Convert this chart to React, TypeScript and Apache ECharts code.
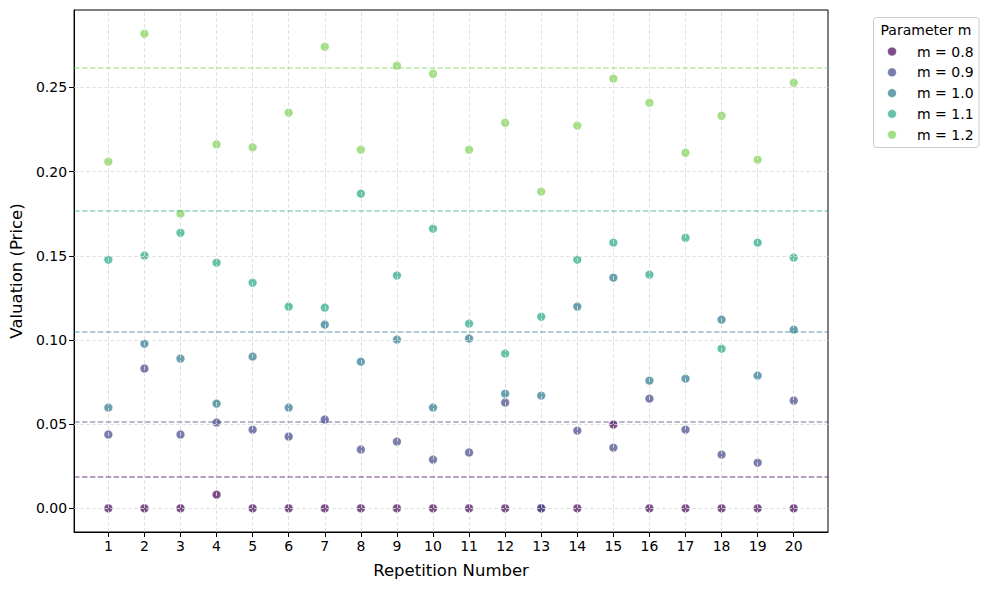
import React, { useEffect, useRef } from "react";
import * as echarts from "echarts";

const reps = [1, 2, 3, 4, 5, 6, 7, 8, 9, 10, 11, 12, 13, 14, 15, 16, 17, 18, 19, 20];
const yTicks = [0, 0.05, 0.1, 0.15, 0.2, 0.25];
const seriesNames = ["m = 0.8", "m = 0.9", "m = 1.0", "m = 1.1", "m = 1.2"];
const colors = ["#440154", "#414487", "#2a788e", "#22a884", "#7ad151"];

const m08 = [0, 0, 0, 0.0081, 0, 0, 0, 0, 0, 0, 0, 0, 0, 0, 0.0497, 0, 0, 0, 0, 0];
const m09 = [0.0438, 0.083, 0.0438, 0.0509, 0.0467, 0.0426, 0.0527, 0.0349, 0.0396, 0.0289, 0.0331, 0.0628, 0, 0.0461, 0.036, 0.0651, 0.0467, 0.0319, 0.0271, 0.064];
const m10 = [0.0598, 0.0978, 0.0889, 0.0622, 0.0901, 0.0598, 0.1091, 0.0871, 0.1002, 0.0598, 0.1008, 0.0681, 0.0669, 0.1198, 0.137, 0.0758, 0.077, 0.1121, 0.0788, 0.1061];
const m11 = [0.1477, 0.1501, 0.1637, 0.1459, 0.134, 0.1198, 0.1192, 0.1869, 0.1383, 0.1661, 0.1097, 0.0919, 0.1138, 0.1477, 0.1578, 0.1388, 0.1607, 0.0948, 0.1578, 0.1489];
const m12 = [0.2059, 0.2819, 0.175, 0.2162, 0.2144, 0.235, 0.2742, 0.213, 0.2629, 0.2581, 0.213, 0.229, 0.1881, 0.2273, 0.2552, 0.2409, 0.2112, 0.2332, 0.2071, 0.2528];
const refLines = [0.0186, 0.0511, 0.1047, 0.177, 0.2619];

const allSeries = [m08, m09, m10, m11, m12];
const FONT = "DejaVu Sans";

export default function App() {
  const ref = useRef<HTMLDivElement>(null);
  useEffect(() => {
    if (!ref.current) return;
    const chart = echarts.init(ref.current, null, { renderer: "svg", width: 988, height: 590 });
    const scatter = allSeries.map((vals, i) => ({
      type: "scatter",
      name: seriesNames[i],
      data: reps.map((r, j) => [r, vals[j]]),
      symbol: "circle",
      symbolSize: 8.5,
      z: 3,
      itemStyle: { color: colors[i], opacity: 0.7, borderColor: "rgba(255,255,255,0.7)", borderWidth: 0.5 },
    }));
    const legendItems: any[] = [];
    seriesNames.forEach((n, i) => {
      const cy = 51.5 + i * 20.8;
      legendItems.push({
        type: "circle",
        shape: { cx: 892, cy, r: 4.3 },
        style: { fill: colors[i], opacity: 0.7, stroke: "rgba(255,255,255,0.7)", lineWidth: 0.5 },
      });
      legendItems.push({
        type: "text",
        x: 917,
        y: cy,
        style: { text: n, fontSize: 14, fontFamily: FONT, fill: "#000", textAlign: "left", textVerticalAlign: "middle" },
      });
    });
    chart.setOption({
      animation: false,
      textStyle: { fontFamily: FONT },
      grid: { left: 74, top: 10, width: 754, height: 522, show: true, borderColor: "#000", borderWidth: 1, backgroundColor: "transparent" },
      xAxis: {
        type: "value",
        min: 0.05,
        max: 20.95,
        splitLine: { show: false },
        axisLine: { onZero: false, lineStyle: { color: "#000" } },
        axisTick: { show: true, length: 5, customValues: reps, lineStyle: { color: "#000" } },
        axisLabel: { customValues: reps, color: "#000", fontSize: 14, margin: 7, fontFamily: FONT },
        name: "Repetition Number",
        nameLocation: "middle",
        nameGap: 30,
        nameTextStyle: { fontSize: 16.5, color: "#000", fontFamily: FONT },
      },
      yAxis: {
        type: "value",
        min: -0.0141,
        max: 0.296,
        splitLine: { show: false },
        axisLine: { show: true, onZero: false, lineStyle: { color: "#000" } },
        axisTick: { show: true, length: 5, customValues: yTicks, lineStyle: { color: "#000" } },
        axisLabel: { customValues: yTicks, color: "#000", fontSize: 14, margin: 7, fontFamily: FONT, formatter: (v: number) => v.toFixed(2) },
        name: "Valuation (Price)",
        nameLocation: "middle",
        nameGap: 47,
        nameTextStyle: { fontSize: 16.5, color: "#000", fontFamily: FONT },
      },
      graphic: [
        { type: "rect", shape: { x: 873.5, y: 17.5, width: 105.5, height: 130, r: 3 }, style: { fill: "#fff", stroke: "#cccccc", lineWidth: 1 }, z: 0 },
        { type: "text", x: 926, y: 30, style: { text: "Parameter m", fontSize: 14, fontFamily: FONT, fill: "#000", textAlign: "center", textVerticalAlign: "middle" } },
        ...legendItems,
      ],
      series: [
        {
          type: "line",
          name: "_grid",
          data: [],
          silent: true,
          z: 1,
          markLine: {
            silent: true,
            precision: 6,
            symbol: ["none", "none"],
            label: { show: false },
            animation: false,
            lineStyle: { color: "#dadada", type: [4, 2], width: 0.8 },
            data: [...reps.map((v) => ({ xAxis: v })), ...yTicks.map((v) => ({ yAxis: v }))],
          },
        },
        {
          type: "line",
          name: "_ref",
          data: [],
          silent: true,
          z: 2,
          markLine: {
            silent: true,
            precision: 6,
            symbol: ["none", "none"],
            label: { show: false },
            animation: false,
            data: refLines.map((v, i) => ({ yAxis: v, lineStyle: { color: colors[i], opacity: 0.5, type: [5.5, 2.4], width: 1.5 } })),
          },
        },
        ...scatter,
      ],
    });
    return () => chart.dispose();
  }, []);
  return <div ref={ref} style={{ position: "absolute", left: 0, top: 0, width: 988, height: 590 }} />;
}
